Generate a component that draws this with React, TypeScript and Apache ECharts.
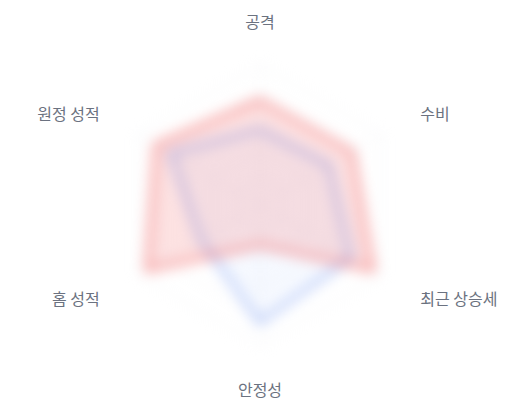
import React, { useEffect, useRef } from 'react';
import * as echarts from 'echarts';

// Indicators in ECharts order (counter-clockwise from top)
const indicatorNames = ['공격', '원정 성적', '홈 성적', '안정성', '최근 상승세', '수비'];
const indicatorMax = [100, 100, 100, 100, 100, 100];
const redValues = [75, 86, 93, 29, 93, 76];
const blueValues = [54, 74, 49, 84, 75, 57];
const verticalNames = ['공격', '안정성'];

const LABEL_COLOR = '#6b7280';
const FONT = '"Noto Sans CJK KR", "Noto Sans", sans-serif';

export default function App() {
  const blurRef = useRef<HTMLDivElement>(null);
  const labelRef = useRef<HTMLDivElement>(null);

  useEffect(() => {
    const indicator = indicatorNames.map((name, i) => ({ name, max: indicatorMax[i] }));
    const baseRadar = {
      center: ['50%', 205],
      radius: 140,
      indicator,
      splitNumber: 5,
    };

    const blurChart = echarts.init(blurRef.current!, undefined, { renderer: 'svg' });
    blurChart.setOption({
      animation: false,
      radar: {
        ...baseRadar,
        axisName: { show: false },
        axisLine: { lineStyle: { color: '#eceef2', width: 1 } },
        splitLine: { lineStyle: { color: '#eceef2', width: 1 } },
        splitArea: { show: false },
      },
      series: [
        {
          type: 'radar',
          symbol: 'none',
          data: [
            {
              value: blueValues,
              lineStyle: { color: '#5b84f0', width: 3, opacity: 0.75 },
              areaStyle: { color: 'rgba(59,130,246,0.07)' },
            },
            {
              value: redValues,
              lineStyle: { color: '#ef4444', width: 3, opacity: 0.85 },
              areaStyle: { color: 'rgba(239,68,68,0.22)' },
            },
          ],
        },
      ],
    });

    const hidden = {
      axisLine: { show: false },
      splitLine: { show: false },
      splitArea: { show: false },
      axisTick: { show: false },
      axisLabel: { show: false },
    };
    const labelChart = echarts.init(labelRef.current!, undefined, { renderer: 'svg' });
    labelChart.setOption({
      animation: false,
      radar: [
        {
          ...baseRadar,
          ...hidden,
          nameGap: 36,
          axisName: {
            formatter: (n: string) => (verticalNames.includes(n) ? n : ''),
            color: LABEL_COLOR,
            fontSize: 16,
            fontFamily: FONT,
          },
        },
        {
          ...baseRadar,
          ...hidden,
          nameGap: 45,
          axisName: {
            formatter: (n: string) => (verticalNames.includes(n) ? '' : n),
            color: LABEL_COLOR,
            fontSize: 16,
            fontFamily: FONT,
          },
        },
      ],
    });

    return () => {
      blurChart.dispose();
      labelChart.dispose();
    };
  }, []);

  return (
    <div style={{ position: 'fixed', left: 0, top: 0, width: 520, height: 400, background: '#fff' }}>
      <div
        ref={blurRef}
        style={{ position: 'absolute', left: 0, top: 0, width: 520, height: 400, filter: 'blur(7px)' }}
      />
      <div ref={labelRef} style={{ position: 'absolute', left: 0, top: 0, width: 520, height: 400 }} />
    </div>
  );
}
